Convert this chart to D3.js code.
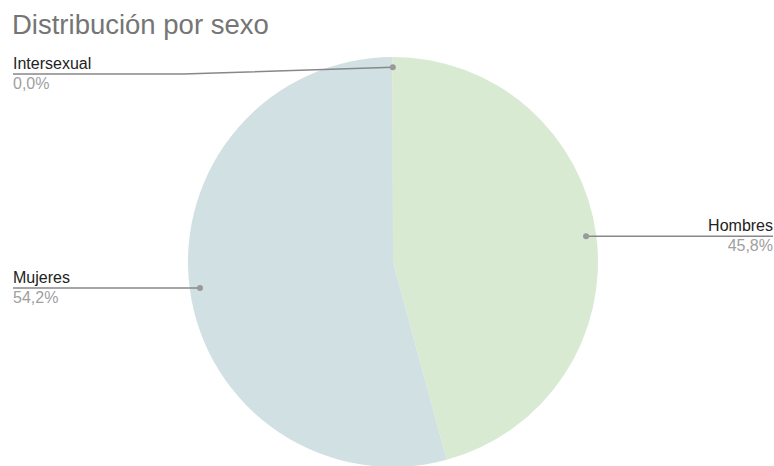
<!DOCTYPE html>
<html>
<head>
<meta charset="utf-8">
<script src="https://cdn.jsdelivr.net/npm/d3@7"></script>
<style>
  body { margin: 0; background: #fff; }
  svg { display: block; font-family: "Liberation Sans", Arial, sans-serif; }
</style>
</head>
<body>
<div id="container"></div>
<script>
// Data
const categories = ["Hombres", "Mujeres", "Intersexual"];
const values = [45.8, 54.2, 0.03];
const percentLabels = ["45,8%", "54,2%", "0,0%"];
const colors = ["#d9ead3", "#d0e0e3", "#f1e2a6"];

const width = 774;
const height = 466;
const cx = 393, cy = 262, radius = 205;

const svg = d3.select("#container")
  .append("svg")
  .attr("width", width)
  .attr("height", height);

// Title
svg.append("text")
  .attr("x", 12)
  .attr("y", 34)
  .attr("fill", "#757575")
  .style("font-size", "27.5px")
  .text("Distribución por sexo");

const pie = d3.pie().sort(null).value(d => d);
const arcs = pie(values);
const arc = d3.arc().innerRadius(0).outerRadius(radius);

const g = svg.append("g")
  .attr("transform", "translate(" + cx + "," + cy + ")");

g.selectAll("path")
  .data(arcs)
  .enter()
  .append("path")
  .attr("d", arc)
  .attr("fill", (d, i) => colors[i]);

// Leader lines and labels
const labelMinY = 74;
arcs.forEach((d, i) => {
  const a = (d.startAngle + d.endAngle) / 2;
  const px = cx + Math.sin(a) * radius * 0.95;
  const py = cy - Math.cos(a) * radius * 0.95;
  const rightSide = Math.sin(a) > 0.01;
  const ly = Math.max(py, labelMinY);
  const edgeX = rightSide ? width - 1 : 13;

  let pts;
  if (ly !== py) {
    pts = [[px, py], [183, ly], [edgeX, ly]];
  } else {
    pts = [[px, py], [edgeX, ly]];
  }

  svg.append("path")
    .attr("d", d3.line()(pts))
    .attr("fill", "none")
    .attr("stroke", "#888")
    .attr("stroke-width", 1.5);

  svg.append("circle")
    .attr("cx", px)
    .attr("cy", py)
    .attr("r", 3)
    .attr("fill", "#999");

  const anchor = rightSide ? "end" : "start";
  const tx = rightSide ? width - 1 : 13;

  svg.append("text")
    .attr("x", tx)
    .attr("y", ly - 5)
    .attr("text-anchor", anchor)
    .attr("fill", "#222")
    .style("font-size", "16px")
    .text(categories[i]);

  svg.append("text")
    .attr("x", tx)
    .attr("y", ly + 15)
    .attr("text-anchor", anchor)
    .attr("fill", "#a0a0a0")
    .style("font-size", "16px")
    .text(percentLabels[i]);
});
</script>
</body>
</html>
